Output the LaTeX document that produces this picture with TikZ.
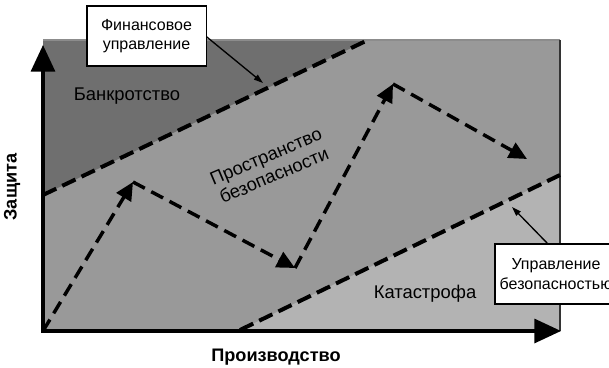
\documentclass[tikz,border=0pt]{standalone}
\usepackage{fontspec}
\setmainfont{Liberation Sans}
\usetikzlibrary{arrows.meta}
\definecolor{darkzone}{HTML}{6F6F6F}
\definecolor{midzone}{HTML}{999999}
\definecolor{lightzone}{HTML}{B3B3B3}
\definecolor{edgegray}{HTML}{333333}
\tikzset{
  zone/.style={draw=none},
  border/.style={line width=3pt, dash pattern=on 11pt off 5pt},
  route/.style={line width=2.6pt, dash pattern=on 10pt off 5.5pt,
    -{Triangle[length=13.5pt,width=12.5pt]}},
  axisline/.style={line width=2.4pt, -{Triangle[length=20pt,width=18pt]}},
  callout/.style={draw, line width=1pt, fill=white, align=center,
    font=\fontsize{12}{14.5}\selectfont, inner sep=0pt},
  pointer/.style={line width=1pt, -{Triangle[length=7pt,width=4.5pt]}},
  zonelabel/.style={font=\fontsize{13.8}{15.5}\selectfont, align=center, inner sep=0pt},
  axislabel/.style={font=\fontsize{13.6}{15}\selectfont\bfseries, inner sep=0pt}
}
\begin{document}
\begin{tikzpicture}[x=0.75pt,y=-0.75pt]
\useasboundingbox (0,0) rectangle (609,367);
% corners
\coordinate (O) at (43,331);
\coordinate (TL) at (43,40);
\coordinate (TR) at (560,40);
\coordinate (BR) at (560,331);
% boundary points
\coordinate (f1) at (43,195);
\coordinate (f2) at (368,40);
\coordinate (s1) at (240,330);
\coordinate (s2) at (560,175);
% zones
\fill[midzone] (TL) rectangle (BR);
\fill[darkzone] (TL) -- (f2) -- (f1) -- cycle;
\fill[lightzone] (s1) -- (s2) -- (BR) -- cycle;
\draw[line width=0.8pt, black!45] (TL) -- (TR);
\draw[line width=1.5pt, edgegray] (TR) -- (BR);
% boundaries
\draw[border] (f1) -- (f2);
\draw[border] (s1) -- (s2);
% route
\coordinate (p0) at (43,331);
\coordinate (p1) at (133,182);
\coordinate (p2) at (295,268);
\coordinate (p3) at (393,84);
\coordinate (p4) at (527,159);
\draw[route] (p0) -- (p1);
\draw[route] (p1) -- (p2);
\draw[route] (p2) -- (p3);
\draw[route] (p3) -- (p4);
% axes
\coordinate (ytip) at (43,45);
\coordinate (xtip) at (561,331);
\draw[axisline] (43,332.5) -- (ytip);
\draw[axisline] (41.5,331) -- (xtip);
% zone labels
\node[zonelabel] (bankrot) at (127,96) {Банкротство};
\node[zonelabel, rotate=23] (space) at (270,166) {Пространство\\безопасности};
\node[zonelabel] (katas) at (425,294) {Катастрофа};
% callouts
\node[callout, minimum width=89.5pt, minimum height=45pt] (fin) at (146.5,36) {Финансовое\\управление};
\node[callout, minimum width=91.5pt, minimum height=45pt] (safe) at (556,274) {Управление\\безопасностью};
\coordinate (finend) at (263,83);
\coordinate (safeend) at (512,207);
\draw[pointer] (fin.east) ++(0,1) coordinate (finstart) -- (finend);
\draw[pointer] (548,244) coordinate (safestart) -- (safeend);
% axis labels
\node[axislabel, rotate=90] (ylab) at (12,187) {Защита};
\node[axislabel] (xlab) at (276,357) {Производство};
\end{tikzpicture}
\end{document}
